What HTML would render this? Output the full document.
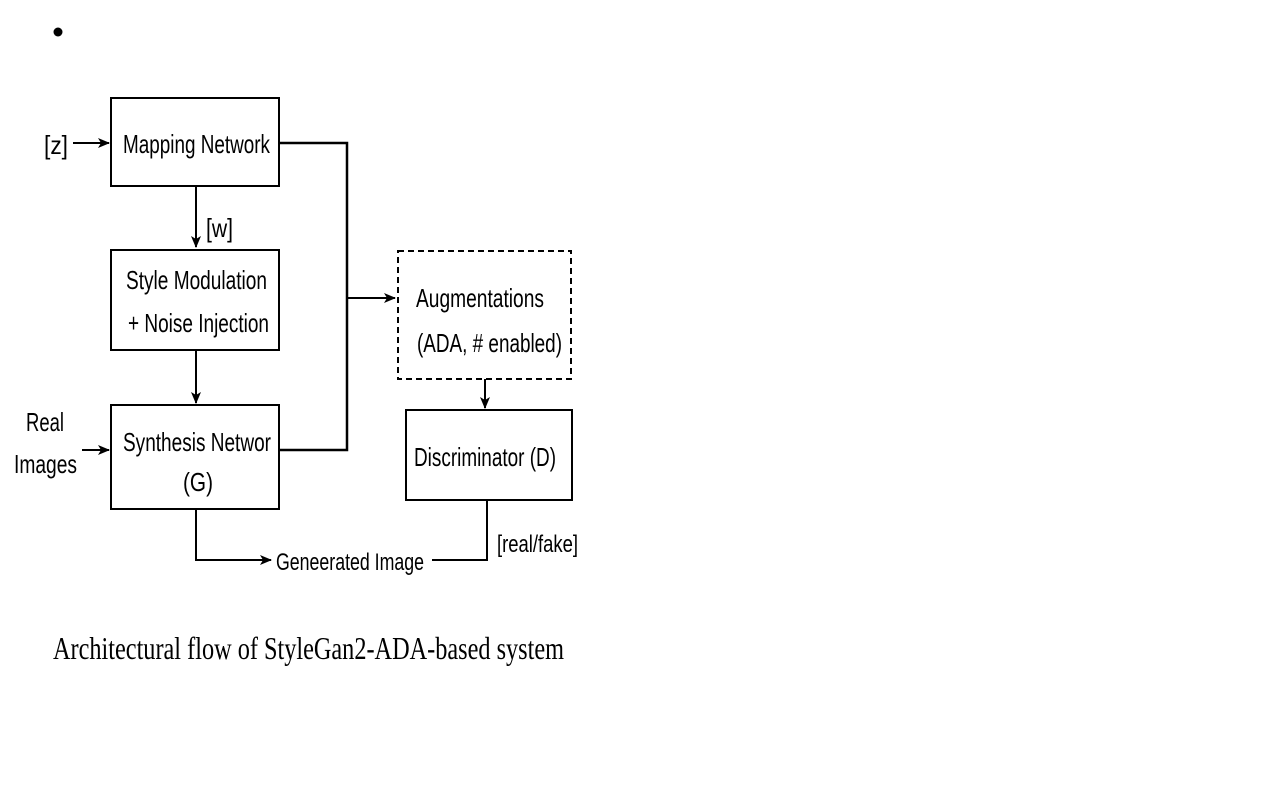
<!DOCTYPE html>
<html><head><style>html,body{margin:0;padding:0;background:#fff;width:1273px;height:785px;overflow:hidden}</style></head>
<body>
<svg width="1273" height="785" xmlns="http://www.w3.org/2000/svg" font-family="Liberation Sans, sans-serif">
<defs><marker id="a" markerWidth="12" markerHeight="10" refX="11" refY="5" orient="auto" markerUnits="userSpaceOnUse"><path d="M0,0 L12,5 L0,10 L3,5 z" fill="#000"/></marker></defs>
<circle cx="58" cy="32" r="4.5" fill="#000"/>
<g fill="none" stroke="#000" stroke-width="2">
<rect x="111" y="98" width="168" height="88"/>
<rect x="111" y="250" width="168" height="100"/>
<rect x="111" y="405" width="168" height="104"/>
<rect x="406" y="410" width="166" height="90"/>
<rect x="398" y="251" width="173" height="128" stroke-dasharray="6,4"/>
<polyline points="279,143 347,143 347,450 280,450" stroke-width="2.5"/>
<line x1="347" y1="298" x2="395" y2="298" marker-end="url(#a)"/>
<line x1="73" y1="143" x2="109" y2="143" marker-end="url(#a)"/>
<line x1="196" y1="186" x2="196" y2="247" marker-end="url(#a)"/>
<line x1="196" y1="350" x2="196" y2="403" marker-end="url(#a)"/>
<line x1="485" y1="379" x2="485" y2="408" marker-end="url(#a)"/>
<line x1="82" y1="450" x2="109" y2="450" marker-end="url(#a)"/>
<polyline points="196,509 196,560 271,560" marker-end="url(#a)"/>
<polyline points="432,560 487,560 487,500"/>
</g>
<g font-size="26" fill="#000">
<text x="44" y="154" textLength="24" lengthAdjust="spacingAndGlyphs">[z]</text>
<text x="123" y="153" textLength="147" lengthAdjust="spacingAndGlyphs">Mapping Network</text>
<text x="206" y="237" textLength="27" lengthAdjust="spacingAndGlyphs">[w]</text>
<text x="126" y="289" textLength="141" lengthAdjust="spacingAndGlyphs">Style Modulation</text>
<text x="128" y="332" textLength="141" lengthAdjust="spacingAndGlyphs">+ Noise Injection</text>
<text x="26" y="431" textLength="38" lengthAdjust="spacingAndGlyphs">Real</text>
<text x="14" y="473" textLength="63" lengthAdjust="spacingAndGlyphs">Images</text>
<text x="123" y="451" textLength="148" lengthAdjust="spacingAndGlyphs">Synthesis Networ</text>
<text x="183" y="491" textLength="30" lengthAdjust="spacingAndGlyphs">(G)</text>
<text x="416" y="307" textLength="128" lengthAdjust="spacingAndGlyphs">Augmentations</text>
<text x="417" y="352" textLength="145" lengthAdjust="spacingAndGlyphs">(ADA, # enabled)</text>
<text x="414" y="466" textLength="142" lengthAdjust="spacingAndGlyphs">Discriminator (D)</text>
<text x="276" y="570" textLength="148" lengthAdjust="spacingAndGlyphs" font-size="24">Geneerated Image</text>
<text x="497" y="552" textLength="81" lengthAdjust="spacingAndGlyphs" font-size="24">[real/fake]</text>
</g>
<text x="53" y="659" font-family="Liberation Serif, serif" font-size="32" textLength="511" lengthAdjust="spacingAndGlyphs">Architectural flow of StyleGan2-ADA-based system</text>
</svg>
</body></html>
